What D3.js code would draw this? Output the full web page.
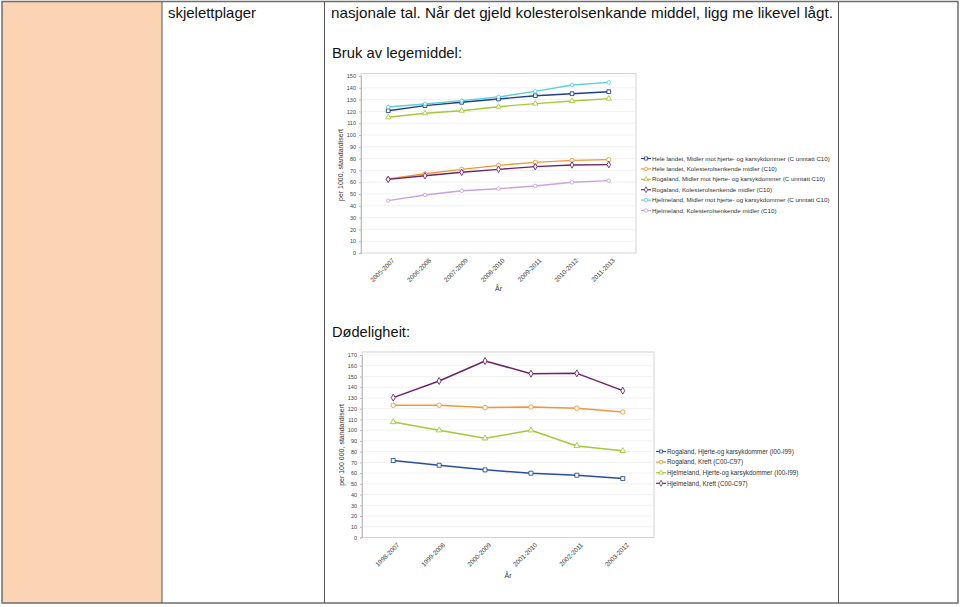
<!DOCTYPE html>
<html>
<head>
<meta charset="utf-8">
<script src="https://cdn.jsdelivr.net/npm/d3@7/dist/d3.min.js"></script>
<style>
  html, body { margin: 0; padding: 0; background: #fff; }
  svg { display: block; font-family: "Liberation Sans", Arial, sans-serif; }
</style>
</head>
<body>
<svg id="page" width="960" height="607"></svg>
<script>
// ---------- Chart 1: Bruk av legemiddel ----------
const periods1 = ["2005-2007", "2006-2008", "2007-2009", "2008-2010", "2009-2011", "2010-2012", "2011-2013"];
const heleLandetHjerte   = [120.6, 124.9, 127.7, 130.5, 133.3, 135.0, 136.7];
const heleLandetKolest   = [62.7, 67.2, 70.9, 74.3, 76.8, 78.5, 79.1];
const rogalandHjerte     = [115.0, 118.4, 120.6, 124.0, 126.6, 128.8, 130.8];
const rogalandKolest     = [62.4, 65.5, 68.4, 70.9, 73.2, 74.6, 74.9];
const hjelmelandHjerte   = [123.7, 126.3, 129.1, 132.2, 137.0, 142.4, 144.6];
const hjelmelandKolest   = [44.4, 49.2, 52.8, 54.5, 56.8, 59.9, 61.3];
const legend1 = [
  "Hele landet, Midler mot hjerte- og karsykdommer (C unntatt C10)",
  "Hele landet, Kolesterolsenkende midler (C10)",
  "Rogaland, Midler mot hjerte- og karsykdommer (C unntatt C10)",
  "Rogaland, Kolesterolsenkende midler (C10)",
  "Hjelmeland, Midler mot hjerte- og karsykdommer (C unntatt C10)",
  "Hjelmeland, Kolesterolsenkende midler (C10)"
];
const yTicks1 = d3.range(0, 151, 10);

// ---------- Chart 2: Dødeligheit ----------
const periods2 = ["1998-2007", "1999-2008", "2000-2009", "2001-2010", "2002-2011", "2003-2012"];
const rogalandHjerteDod   = [71.7, 67.3, 63.0, 59.9, 58.0, 54.9];
const rogalandKreft       = [123.2, 123.2, 121.0, 121.6, 120.4, 116.9];
const hjelmelandHjerteDod = [107.6, 99.9, 92.4, 99.9, 85.3, 80.7];
const hjelmelandKreft     = [130.3, 145.8, 164.4, 152.6, 152.9, 136.8];
const legend2 = [
  "Rogaland, Hjerte-og karsykdommer (I00-I99)",
  "Rogaland, Kreft (C00-C97)",
  "Hjelmeland, Hjerte-og karsykdommer (I00-I99)",
  "Hjelmeland, Kreft (C00-C97)"
];
const yTicks2 = d3.range(0, 171, 10);

const svg = d3.select("#page");

// ---------- Page / table ----------
svg.append("rect").attr("x", 0).attr("y", 0).attr("width", 960).attr("height", 607).attr("fill", "#fff");
svg.append("rect").attr("x", 2).attr("y", 2).attr("width", 160).attr("height", 601).attr("fill", "#fbd4b4");
svg.append("rect").attr("x", 2).attr("y", 1.5).attr("width", 956).attr("height", 601.5)
  .attr("fill", "none").attr("stroke", "#6e6e6e").attr("stroke-width", 1.5);
[162, 324.5, 838.5].forEach(x => {
  svg.append("line").attr("x1", x).attr("x2", x).attr("y1", 2).attr("y2", 603)
    .attr("stroke", "#555").attr("stroke-width", 1);
});

function pageText(txt, x, y, len) {
  svg.append("text").attr("x", x).attr("y", y).attr("font-size", 14.5).attr("fill", "#111")
    .attr("textLength", len).attr("lengthAdjust", "spacingAndGlyphs").text(txt);
}
pageText("skjelettplager", 168, 18, 88);
pageText("nasjonale tal. Når det gjeld kolesterolsenkande middel, ligg me likevel lågt.", 331, 18, 502);
pageText("Bruk av legemiddel:", 332, 58, 130);
pageText("Dødeligheit:", 332, 337, 78);

// ---------- chart drawer ----------
function drawChart(cfg) {
  const g = svg.append("g");
  const x = d3.scalePoint().domain(cfg.periods).range([cfg.left, cfg.right]).padding(cfg.pad);
  const y = d3.scaleLinear().domain([0, cfg.ymax]).range([cfg.y0, cfg.yTop]);

  // frame
  g.append("rect").attr("x", cfg.left).attr("y", cfg.frameTop)
    .attr("width", cfg.right - cfg.left).attr("height", cfg.y0 - cfg.frameTop)
    .attr("fill", "#fff").attr("stroke", "#d4d4d4").attr("stroke-width", 1);

  // gridlines
  g.selectAll(".grid").data(cfg.yTicks.filter(v => v > 0)).enter().append("line")
    .attr("x1", cfg.left).attr("x2", cfg.right)
    .attr("y1", d => y(d)).attr("y2", d => y(d))
    .attr("stroke", "#eeeeee").attr("stroke-width", 0.8);

  // y axis
  const ya = g.append("g").attr("transform", `translate(${cfg.left},0)`)
    .call(d3.axisLeft(y).tickValues(cfg.yTicks).tickSize(2).tickPadding(3));
  ya.select(".domain").attr("stroke", "#bbb");
  ya.selectAll(".tick line").attr("stroke", "#bbb");
  ya.selectAll(".tick text").attr("font-size", 5.5).attr("fill", "#444")
    .attr("font-family", "Liberation Sans, Arial, sans-serif");

  // x axis
  const xa = g.append("g").attr("transform", `translate(0,${cfg.y0})`)
    .call(d3.axisBottom(x).tickSize(0).tickPadding(0));
  xa.select(".domain").remove();
  xa.selectAll(".tick text")
    .attr("font-size", 6.4).attr("fill", "#444")
    .attr("font-family", "Liberation Sans, Arial, sans-serif")
    .attr("text-anchor", "end")
    .attr("dy", 0)
    .attr("y", 0)
    .attr("transform", `translate(6,${cfg.labelOff}) rotate(-45)`);

  // axis titles
  g.append("text").attr("x", (x.range()[0] + x.range()[1]) / 2 + cfg.arDx).attr("y", cfg.arY)
    .attr("text-anchor", "middle").attr("font-size", 7).attr("fill", "#333").text("År");
  g.append("text")
    .attr("transform", `translate(${cfg.left - 18},${cfg.yTitleY}) rotate(-90)`)
    .attr("text-anchor", "middle").attr("font-size", 7).attr("fill", "#333").text(cfg.yTitle);

  // series
  cfg.series.forEach(s => {
    const pts = s.values.map((v, i) => [x(cfg.periods[i]), y(v)]);
    g.append("path").attr("d", d3.line()(pts)).attr("fill", "none")
      .attr("stroke", s.color).attr("stroke-width", cfg.lw).attr("stroke-linejoin", "round");
    g.selectAll(null).data(pts).enter().append("path")
      .attr("transform", d => `translate(${d[0]},${d[1]})`)
      .attr("d", d3.symbol().type(s.symbol).size(s.size))
      .attr("fill", "#fff").attr("stroke", s.color).attr("stroke-width", 0.9);
  });

  // legend
  cfg.series.forEach((s, i) => {
    const ly = cfg.legY + i * cfg.legStep;
    g.append("line").attr("x1", cfg.legX).attr("x2", cfg.legX + 10).attr("y1", ly).attr("y2", ly)
      .attr("stroke", s.color).attr("stroke-width", 1.2);
    g.append("path").attr("transform", `translate(${cfg.legX + 5},${ly})`)
      .attr("d", d3.symbol().type(s.symbol).size(10))
      .attr("fill", "#fff").attr("stroke", s.color).attr("stroke-width", 0.8);
    g.append("text").attr("x", cfg.legX + 11).attr("y", ly).attr("dy", "0.35em")
      .attr("font-size", cfg.legFont).attr("fill", "#333").text(s.name);
  });
}

drawChart({
  periods: periods1, ymax: 150, yTicks: yTicks1,
  left: 361, right: 636, pad: 0.74, y0: 253, yTop: 76, frameTop: 73.5,
  labelOff: 8, arY: 291, arDx: 0, yTitle: "per 1000, standardisert", yTitleY: 165,
  lw: 1.4,
  legX: 641, legY: 158.5, legStep: 10.4, legFont: 6.2,
  series: [
    { name: legend1[0], values: heleLandetHjerte, color: "#213f86", symbol: d3.symbolSquare, size: 14 },
    { name: legend1[1], values: heleLandetKolest, color: "#f0973a", symbol: d3.symbolCircle, size: 14 },
    { name: legend1[2], values: rogalandHjerte, color: "#a4c93a", symbol: d3.symbolTriangle, size: 12 },
    { name: legend1[3], values: rogalandKolest, color: "#6b2468", symbol: d3.symbolDiamond, size: 12 },
    { name: legend1[4], values: hjelmelandHjerte, color: "#5ccfd9", symbol: d3.symbolCircle, size: 10 },
    { name: legend1[5], values: hjelmelandKolest, color: "#c9a3dd", symbol: d3.symbolCircle, size: 10 }
  ]
});

drawChart({
  periods: periods2, ymax: 170, yTicks: yTicks2,
  left: 362, right: 654, pad: 0.68, y0: 537.5, yTop: 355, frameTop: 352,
  labelOff: 8, arY: 578, arDx: 0, yTitle: "per 100 000, standardisert", yTitleY: 445,
  lw: 1.5,
  legX: 656, legY: 451.5, legStep: 10.6, legFont: 6.4,
  series: [
    { name: legend2[0], values: rogalandHjerteDod, color: "#2c4c9c", symbol: d3.symbolSquare, size: 16 },
    { name: legend2[1], values: rogalandKreft, color: "#f0973a", symbol: d3.symbolCircle, size: 16 },
    { name: legend2[2], values: hjelmelandHjerteDod, color: "#a4c93a", symbol: d3.symbolTriangle, size: 14 },
    { name: legend2[3], values: hjelmelandKreft, color: "#6b2468", symbol: d3.symbolDiamond, size: 14 }
  ]
});
</script>
</body>
</html>
